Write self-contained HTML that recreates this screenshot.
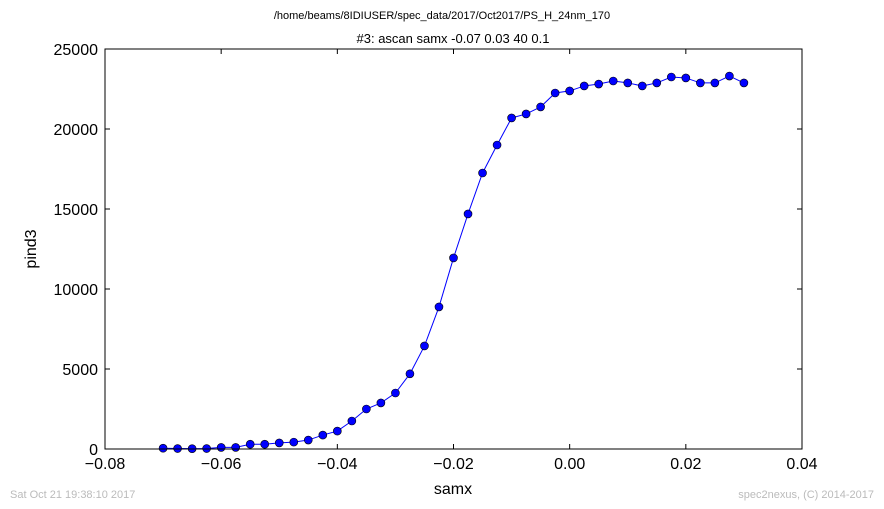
<!DOCTYPE html>
<html><head><meta charset="utf-8"><style>
html,body{margin:0;padding:0;background:#fff;width:884px;height:509px;overflow:hidden}
svg{font-family:"Liberation Sans","DejaVu Sans",sans-serif}
</style></head><body>
<svg id="chart" width="884" height="509">
<text x="442" y="19" font-size="11" text-anchor="middle">/home/beams/8IDIUSER/spec_data/2017/Oct2017/PS_H_24nm_170</text>
<text x="453" y="43" font-size="13" text-anchor="middle">#3: ascan  samx -0.07 0.03  40 0.1</text>
<text x="453" y="494" font-size="16" text-anchor="middle">samx</text>
<text x="36" y="249" font-size="16" text-anchor="middle" transform="rotate(-90 36 249)">pind3</text>
<text x="10" y="498" font-size="11" fill="#bbb">Sat Oct 21 19:38:10 2017</text>
<text x="874" y="498" font-size="11" fill="#bbb" text-anchor="end">spec2nexus, (C) 2014-2017</text>
<g id="axes"></g>
<g id="series"></g>
<rect x="105" y="49" width="697" height="400" fill="none" stroke="#000" stroke-width="1"/>
</svg>
<script>
const xStart=-0.07, xStep=0.0025;
const yValues=[50,30,20,30,100,100,300,300,380,430,560,870,1120,1750,2500,2880,3500,4700,6440,8880,11940,14690,17250,19000,20690,20940,21380,22250,22380,22690,22810,23000,22880,22690,22880,23250,23190,22880,22880,23310,22880];
const xTicks=[-0.08,-0.06,-0.04,-0.02,0,0.02,0.04];
const xTickLabels=["\u22120.08","\u22120.06","\u22120.04","\u22120.02","0.00","0.02","0.04"];
const yTicks=[0,5000,10000,15000,20000,25000];
const yTickLabels=["0","5000","10000","15000","20000","25000"];
const NS="http://www.w3.org/2000/svg";
const L=105,R=802,T=49,B=449;
const sx=v=>L+(v-(-0.08))/(0.12)*(R-L);
const sy=v=>B-v/25000*(B-T);
function mk(tag,attrs,parent){const e=document.createElementNS(NS,tag);for(const k in attrs)e.setAttribute(k,attrs[k]);parent.appendChild(e);return e;}
const ax=document.getElementById('axes'),se=document.getElementById('series');
xTicks.forEach((t,i)=>{const x=sx(t);
 const a=mk('line',{x1:x,x2:x,y1:B,y2:B-5,stroke:'#000'},ax);
 
 
 const b=mk('line',{x1:x,x2:x,y1:T,y2:T+5,stroke:'#000'},ax);
 
 
 const tx=mk('text',{x:x,y:B+20,'font-size':16,'text-anchor':'middle'},ax);tx.textContent=xTickLabels[i];
 
 
});
yTicks.forEach((t,i)=>{const y=sy(t);
 const a=mk('line',{x1:L,x2:L+5,y1:y,y2:y,stroke:'#000'},ax);
 
 
 const b=mk('line',{x1:R-5,x2:R,y1:y,y2:y,stroke:'#000'},ax);
 
 
 const tx=mk('text',{x:L-7,y:y+6,'font-size':16,'text-anchor':'end'},ax);tx.textContent=yTickLabels[i];
 
 
});
const pts=yValues.map((v,i)=>[sx(xStart+i*xStep),sy(v)]);
const line=mk('polyline',{points:pts.map(p=>p.join(',')).join(' '),fill:'none',stroke:'#0000ff','stroke-width':1},se);


pts.forEach(p=>{const c=mk('circle',{cx:p[0],cy:p[1],r:4,fill:'#0000ff',stroke:'#000','stroke-width':0.6},se);
 
 
});
</script>
</body></html>
